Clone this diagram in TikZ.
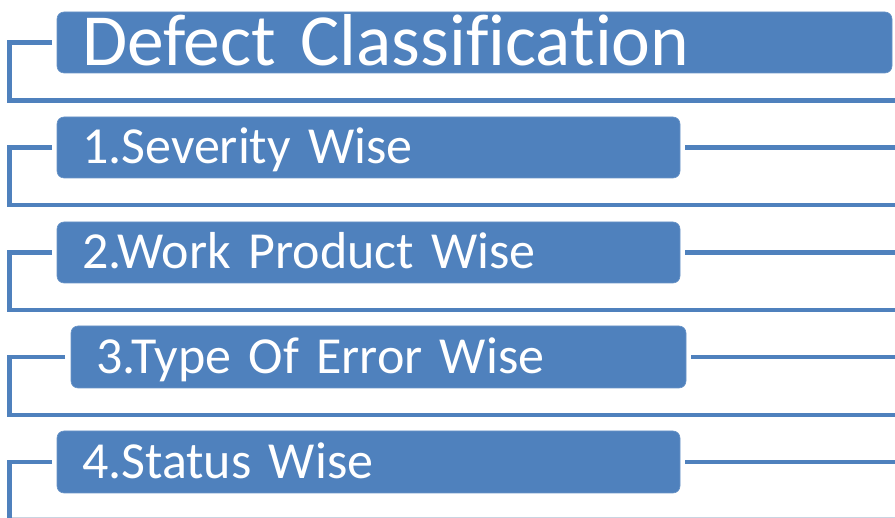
\documentclass[tikz,border=0pt]{standalone}
\usepackage{fontspec}
\setmainfont{Carlito}[Ligatures={NoCommon}]
\definecolor{officeblue}{HTML}{4F81BD}
\definecolor{faintline}{HTML}{C9D3E0}
\tikzset{
  catbox/.style={draw=officeblue!85!white, line width=0.6pt, fill=officeblue, rounded corners=7pt,
    text=white, minimum height=61pt, inner xsep=25pt, inner ysep=0pt, align=left,
    text height=33pt, text depth=0pt, anchor=center, font=\fontsize{52}{52}\selectfont},
  titlebox/.style={catbox, text height=46pt, font=\fontsize{73.5}{74}\selectfont},
  bracket/.style={draw=officeblue, line width=4.6pt, line cap=butt, line join=miter},
  stub/.style={draw=officeblue, line width=4.4pt}
}
\begin{document}
\begin{tikzpicture}[x=1pt,y=-1pt]
\useasboundingbox (0,0) rectangle (895,518);
% boxes
\node[titlebox, text width=785pt] (b0) at (474.5,42.5) {Defect Classification};
\node[catbox, text width=573pt] (b1) at (368.5,147.5) {1.Severity Wise};
\node[catbox, text width=573pt] (b2) at (368.5,252.5) {2.Work Product Wise};
\node[catbox, text width=565pt, minimum height=62pt] (b3) at (378.5,357) {3.Type Of Error Wise};
\node[catbox, text width=573pt, minimum height=62pt] (b4) at (368.5,462) {4.Status Wise};
% bracket coordinates
\coordinate (s0) at (52,42.5);   \coordinate (c0) at (9.3,42.5);  \coordinate (d0) at (9.3,100.5); \coordinate (e0) at (895,100.5);
\coordinate (s1) at (52,147.5);  \coordinate (c1) at (9.3,147.5); \coordinate (d1) at (9.3,205);   \coordinate (e1) at (895,205);
\coordinate (s2) at (52,252.5);  \coordinate (c2) at (9.3,252.5); \coordinate (d2) at (9.3,310);   \coordinate (e2) at (895,310);
\coordinate (s3) at (65,357);    \coordinate (c3) at (9.3,357);   \coordinate (d3) at (9.3,415);   \coordinate (e3) at (895,415);
\coordinate (s4) at (52,462);    \coordinate (c4) at (9.3,462);   \coordinate (d4) at (9.3,518);
% right stubs
\coordinate (r1) at (895,147.5);
\coordinate (r2) at (895,252.5);
\coordinate (r3) at (895,357);
\coordinate (r4) at (895,462);
\draw[bracket] (s0) -- (c0) -- (d0) -- (e0);
\draw[bracket] (s1) -- (c1) -- (d1) -- (e1);
\draw[bracket] (s2) -- (c2) -- (d2) -- (e2);
\draw[bracket] (s3) -- (c3) -- (d3) -- (e3);
\draw[bracket] (s4) -- (c4) -- (d4);
\draw[stub] ([xshift=5pt]b1.east) -- (r1);
\draw[stub] ([xshift=5pt]b2.east) -- (r2);
\draw[stub] ([xshift=5pt]b3.east) -- (r3);
\draw[stub] ([xshift=5pt]b4.east) -- (r4);
% faint bottom edge
\coordinate (f0) at (12,517.3);
\coordinate (f1) at (895,517.3);
\draw[faintline, line width=1.2pt] (f0) -- (f1);
\end{tikzpicture}
\end{document}
